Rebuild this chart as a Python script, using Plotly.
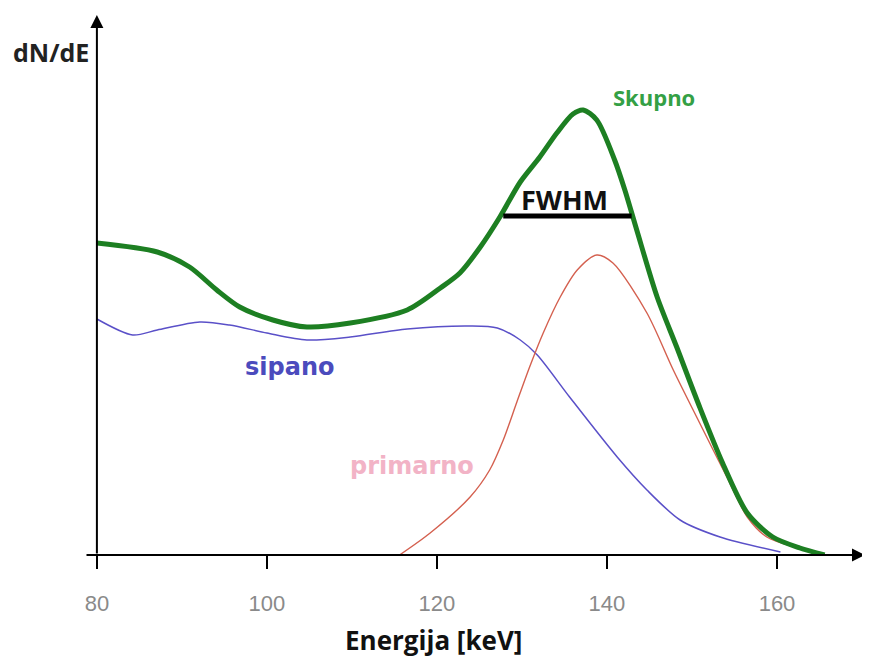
import plotly.graph_objects as go

# ── data ──
energy_total = [80.0, 87.1, 90.9, 94.1, 96.8, 100.7, 104.7, 109.8, 116.5, 120.4, 122.7, 125.1,
                127.4, 129.8, 132.1, 134.1, 136.0, 137.2, 138.8, 140.9, 142.1, 143.5,
                145.9, 148.2, 150.9, 153.6, 156.5, 159.5, 162.7, 165.6]
counts_total = [62.4, 60.6, 57.6, 53.0, 49.6, 47.0, 45.6, 46.4, 49.0, 53.4, 56.4, 61.6,
                67.6, 74.6, 79.6, 84.4, 88.2, 89.0, 87.0, 79.0, 73.0, 65.0,
                51.6, 41.6, 29.6, 18.4, 8.4, 3.6, 1.4, 0.0]

energy_scatter = [80.0, 84.2, 87.1, 92.1, 95.6, 100.0, 104.7, 109.8, 116.5, 123.9, 127.1,
                  129.8, 131.8, 135.6, 141.2, 144.7, 148.6, 153.3, 160.4]
counts_scatter = [47.2, 44.0, 45.0, 46.6, 46.0, 44.4, 43.0, 43.6, 45.2, 45.8, 45.4,
                  43.0, 40.0, 31.6, 19.6, 13.0, 7.0, 3.6, 0.6]

energy_primary = [115.6, 119.2, 123.9, 126.2, 127.8, 129.4, 130.9, 132.5, 134.5, 136.5,
                  138.8, 140.7, 144.7, 147.8, 150.9, 154.1, 156.5, 158.8, 162.4, 165.6]
counts_primary = [0.0, 4.4, 11.6, 17.0, 23.0, 30.6, 37.6, 44.4, 51.6, 57.0,
                  60.0, 58.4, 48.4, 37.0, 26.4, 15.6, 7.6, 3.6, 1.4, 0.0]

tick_vals = [80, 100, 120, 140, 160]
tick_text = ["80", "100", "120", "140", "160"]

fwhm_lo, fwhm_hi, fwhm_level = 127.8, 142.9, 67.8

X_MIN, X_MAX = 78.6, 170.35
Y_MAX = 108

fig = go.Figure()

fig.add_trace(go.Scatter(x=energy_scatter, y=counts_scatter, mode="lines",
                         line=dict(color="#5a50c8", width=1.5, shape="spline", smoothing=0.8)))
fig.add_trace(go.Scatter(x=energy_primary, y=counts_primary, mode="lines",
                         line=dict(color="#d4604f", width=1.4, shape="spline", smoothing=0.8)))
fig.add_trace(go.Scatter(x=energy_total, y=counts_total, mode="lines",
                         line=dict(color="#1d7f22", width=5, shape="spline", smoothing=0.8)))

# FWHM bar
fig.add_shape(type="line", x0=fwhm_lo, x1=fwhm_hi, y0=fwhm_level, y1=fwhm_level,
              line=dict(color="black", width=5))

# axes drawn as arrows
fig.add_annotation(x=X_MAX, y=0, ax=X_MIN, ay=0, xref="x", yref="y", axref="x", ayref="y",
                   text="", showarrow=True, arrowhead=2, arrowsize=1.3, arrowwidth=2,
                   arrowcolor="black", standoff=0, startstandoff=0)
fig.add_annotation(x=80, y=Y_MAX, ax=80, ay=0, xref="x", yref="y", axref="x", ayref="y",
                   text="", showarrow=True, arrowhead=2, arrowsize=1.3, arrowwidth=2,
                   arrowcolor="black", standoff=0, startstandoff=0)

lbl = "Open Sans"
wide = "DejaVu Sans"
fig.add_annotation(x=-0.0436, y=0.931, xref="paper", yref="paper", text="<b>dN/dE</b>",
                   xanchor="center", yanchor="middle", showarrow=False,
                   font=dict(family=lbl, size=25, color="#222222"))
fig.add_annotation(x=119.6, y=-0.157, xref="x", yref="paper", text="<b>Energija [keV]</b>",
                   xanchor="center", yanchor="middle", showarrow=False,
                   font=dict(family=lbl, size=26, color="#111111"))
fig.add_annotation(x=145.5, y=91.6, text="<b>Skupno</b>", showarrow=False,
                   font=dict(family=lbl, size=22, color="#34a045"))
fig.add_annotation(x=135.0, y=71.2, text="<b>FWHM</b>", showarrow=False,
                   font=dict(family=lbl, size=27, color="#111111"))
fig.add_annotation(x=102.7, y=37.6, text="<b>sipano</b>", showarrow=False,
                   font=dict(family=wide, size=24, color="#4b4bbd"))
fig.add_annotation(x=117.1, y=17.8, text="<b>primarno</b>", showarrow=False,
                   font=dict(family=wide, size=24, color="#f2b3c6"))

fig.update_xaxes(range=[X_MIN, X_MAX], tickvals=tick_vals, ticktext=tick_text,
                 ticks="outside", ticklen=13, tickwidth=1.5, tickcolor="black",
                 ticklabelstandoff=16, showgrid=False, zeroline=False, showline=False,
                 tickfont=dict(family="Liberation Sans", size=22, color="#8a8a8a"))
fig.update_yaxes(range=[0, Y_MAX], showticklabels=False, ticks="", showgrid=False,
                 zeroline=False, showline=False)

# page body has an 8px margin, so the figure sits 8px in from the window corner
fig.update_layout(width=862, height=653, showlegend=False,
                  margin=dict(l=77, r=5, t=7, b=106),
                  plot_bgcolor="white", paper_bgcolor="white")

fig.write_html("out.html")
